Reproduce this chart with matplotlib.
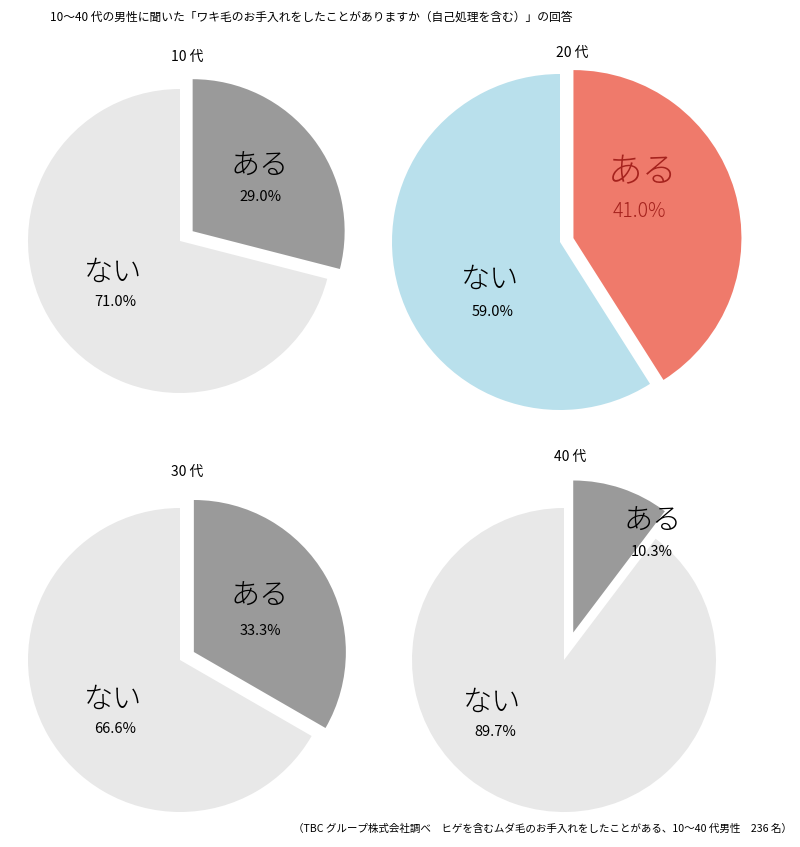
import matplotlib
matplotlib.use("Agg")
import matplotlib.pyplot as plt

plt.rcParams['font.family'] = ['Noto Sans CJK JP', 'DejaVu Sans']

# data
ages = ["10 代", "20 代", "30 代", "40 代"]
aru = [29.0, 41.0, 33.3, 10.3]
nai = [71.0, 59.0, 66.6, 89.7]
slice_labels = ["ある", "ない"]

title = "10〜40 代の男性に聞いた「ワキ毛のお手入れをしたことがありますか（自己処理を含む）」の回答"
note = "（TBC グループ株式会社調べ　ヒゲを含むムダ毛のお手入れをしたことがある、10〜40 代男性　236 名）"

# layout in pixels (y from top)
W, H = 800, 847
centers = [(180, 241), (560, 242), (180, 660), (564, 660)]
radii = [152, 168, 152, 152]
explode_px = [16, 14, 16, 29]   # pie() offsets in data units
title_pos = [(187, 57), (572, 53), (187, 472), (570, 457)]
aru_pos = [(260, 167), (643, 172), (260, 597), (653, 522)]
aru_pct_pos = [(260, 197), (639, 211), (260, 631), (652, 552)]
nai_pos = [(113, 273), (490, 280), (113, 700), (492, 703)]
nai_pct_pos = [(115, 302), (493, 312), (115, 729), (495, 732)]

gray_colors = ["#9a9a9a", "#e8e8e8"]
hi_colors = ["#ef7a6b", "#b9e0ec"]

fig = plt.figure(figsize=(W / 100, H / 100), dpi=100)
ax = fig.add_axes([0, 0, 1, 1])

for i in range(4):
    cx, cy = centers[i]
    highlight = (i == 1)
    colors = hi_colors if highlight else gray_colors
    ax.pie([aru[i], nai[i]], center=(cx, H - cy), radius=radii[i],
           startangle=90, counterclock=False, colors=colors,
           explode=[explode_px[i], 0], frame=True,
           wedgeprops=dict(linewidth=0))

    big = 25 if highlight else 21
    pct = 14 if highlight else 10.5
    aru_color = "#a5221d" if highlight else "#000000"

    x, y = title_pos[i]
    ax.text(x, H - y, ages[i], ha='center', va='center', fontsize=10, color="#000000")
    x, y = aru_pos[i]
    ax.text(x, H - y, slice_labels[0], ha='center', va='center', fontsize=big,
            color=aru_color, fontweight='light')
    x, y = aru_pct_pos[i]
    ax.text(x, H - y, "%.1f%%" % aru[i], ha='center', va='center', fontsize=pct,
            color=aru_color, fontweight='light' if highlight else 'normal')
    x, y = nai_pos[i]
    ax.text(x, H - y, slice_labels[1], ha='center', va='center', fontsize=21,
            color="#000000", fontweight='light')
    x, y = nai_pct_pos[i]
    ax.text(x, H - y, "%.1f%%" % nai[i], ha='center', va='center', fontsize=10.5,
            color="#000000")

ax.set_xlim(0, W)
ax.set_ylim(0, H)
ax.set_aspect('auto')
ax.axis('off')

ax.text(50, H - 17, title, ha='left', va='center', fontsize=8.5, color="#000000")
ax.text(792, H - 829, note, ha='right', va='center', fontsize=7.6, color="#000000")

fig.savefig("out.png", dpi=100, facecolor='white')
